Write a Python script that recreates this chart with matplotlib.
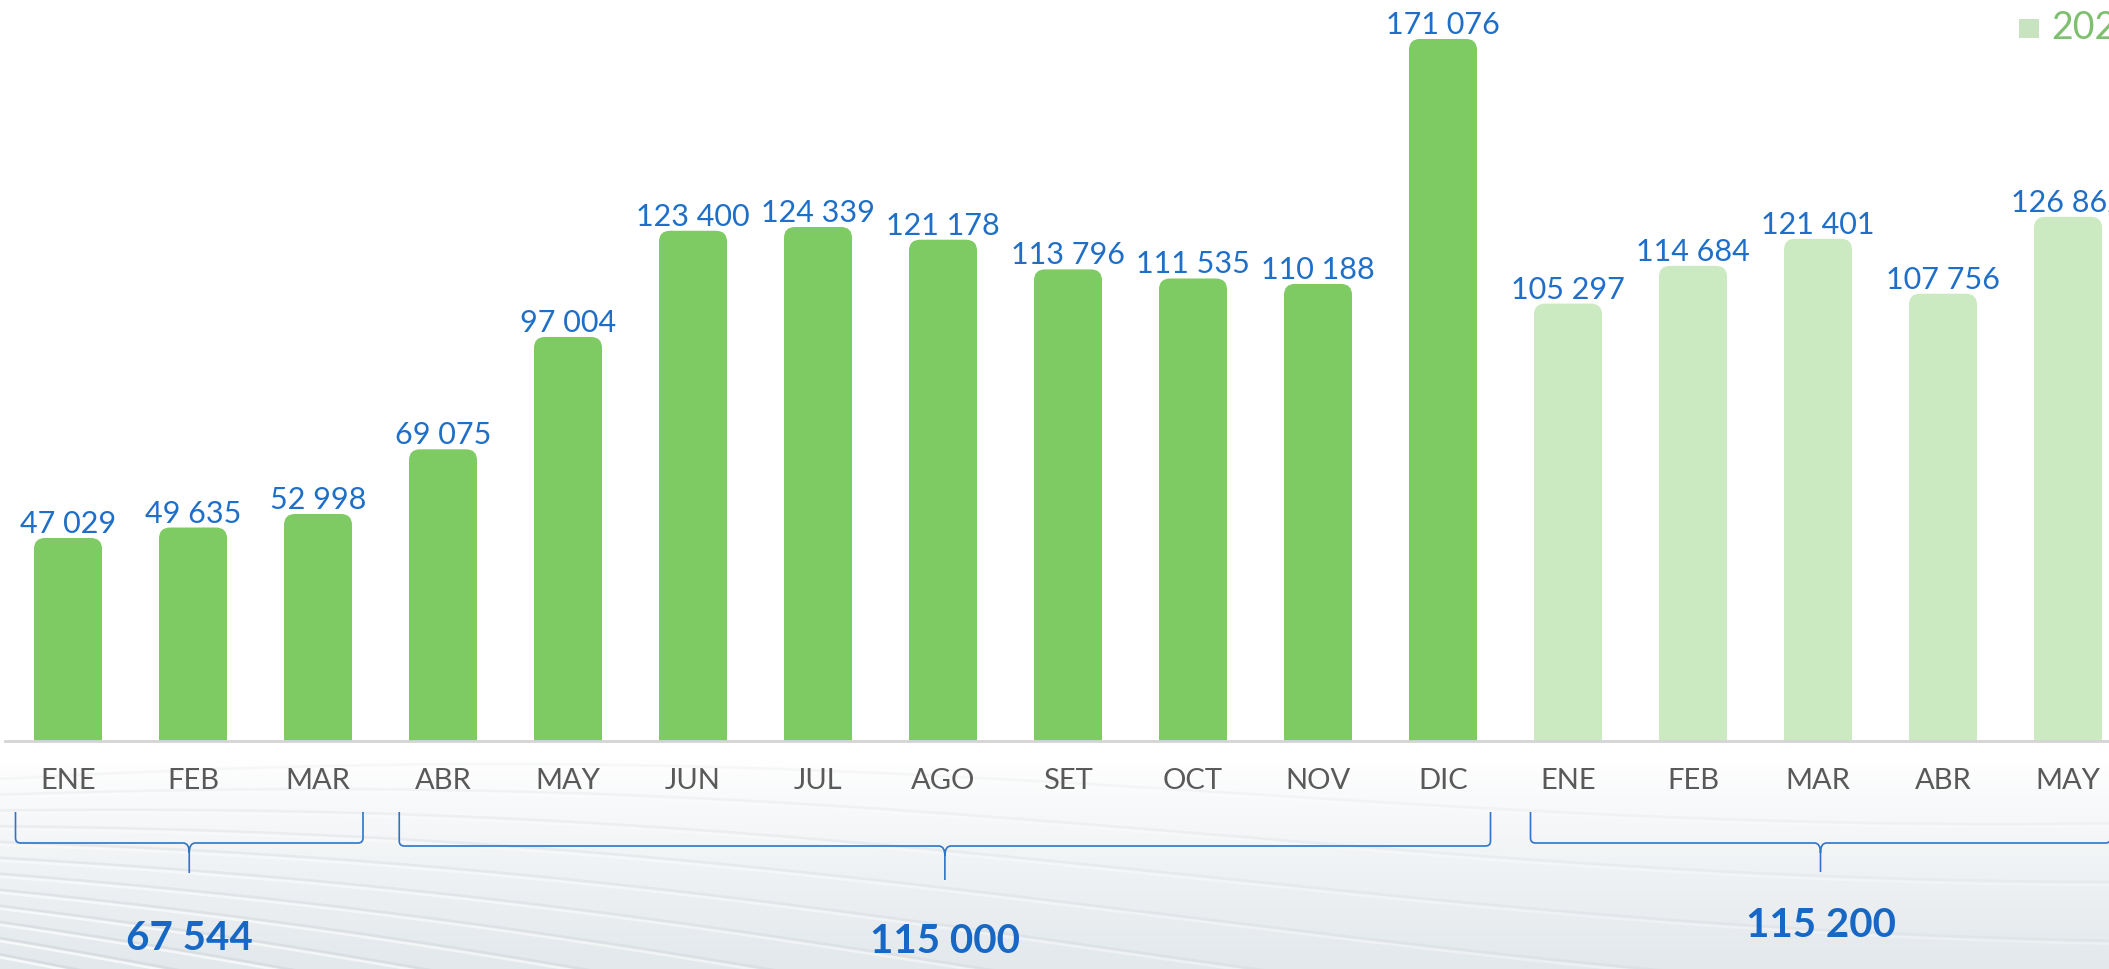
import numpy as np
import matplotlib
matplotlib.use("Agg")
import matplotlib.pyplot as plt
from matplotlib.patches import FancyBboxPatch, Rectangle
from matplotlib.path import Path
from matplotlib.patches import PathPatch
from matplotlib.transforms import blended_transform_factory

# ---------------- data ----------------
months = ["ENE", "FEB", "MAR", "ABR", "MAY", "JUN", "JUL", "AGO", "SET", "OCT", "NOV", "DIC",
          "ENE", "FEB", "MAR", "ABR", "MAY"]
values = [47029, 49635, 52998, 69075, 97004, 123400, 124339, 121178, 113796, 111535, 110188, 171076,
          105297, 114684, 121401, 107756, 126862]
years = [2023] * 12 + [2024] * 5
value_labels = ["47 029", "49 635", "52 998", "69 075", "97 004", "123 400", "124 339", "121 178",
                "113 796", "111 535", "110 188", "171 076", "105 297", "114 684", "121 401",
                "107 756", "126 862"]
group_start = [0, 3, 12]
group_end = [2, 11, 16]
group_labels = ["67 544", "115 000", "115 200"]
legend_label = "2024"

# ---------------- style ----------------
W, H = 2109, 970
DPI = 100
col_2023 = "#7dcb62"
col_2024 = "#cceac1"
blue = "#1f6fc9"
blue_bold = "#1767c4"
grey_txt = "#595959"
FONT = ["Lato", "DejaVu Sans"]

fig = plt.figure(figsize=(W / DPI, H / DPI), dpi=DPI)

# background with gradient and faint waves
bg = fig.add_axes([0, 0, 1, 1], zorder=0)
bg.set_xlim(0, W)
bg.set_ylim(H, 0)
bg.axis("off")
rows = np.arange(H)
t = np.clip((rows - 760) / (H - 760), 0, 1) ** 0.9
top_c = np.array([1.0, 1.0, 1.0])
bot_c = np.array([0.89, 0.91, 0.925])
grad = top_c[None, :] * (1 - t[:, None]) + bot_c[None, :] * t[:, None]
img = np.repeat(grad[:, None, :], 8, axis=1)
bg.imshow(img, extent=[0, W, H, 0], aspect="auto", zorder=0)
xs = np.linspace(0, W, 600)
for k in range(12):
    base = 795 + k * 17
    yk = base - 30 * np.sin(np.pi * (xs + 250 + 25 * k) / 1500.0) + k * 0.02 * xs
    a = min(1.0, 0.3 + k * 0.06)
    bg.plot(xs, yk, color=(0.78, 0.80, 0.82), lw=1.8, alpha=0.45 * a, zorder=1)
    bg.plot(xs, yk + 3, color="white", lw=1.8, alpha=0.75 * a, zorder=1)

# main axes
ax_bottom_px = 742
ax = fig.add_axes([0, (H - ax_bottom_px) / H, 1, ax_bottom_px / H], zorder=2)
ax.patch.set_alpha(0)
px_per_x = 125.0
x0 = -68 / px_per_x
ax.set_xlim(x0, x0 + W / px_per_x)
px_per_k = 4.023
y0 = -13.8 / px_per_k * 1000
y1 = y0 + ax_bottom_px / px_per_k * 1000
ax.set_ylim(y0, y1)
ax.axis("off")

bar_w = 68 / px_per_x
r_x = 11 / px_per_x
y_per_px = 1000 / px_per_k
aspect = y_per_px / (1 / px_per_x)
for i, (v, yr) in enumerate(zip(values, years)):
    c = col_2023 if yr == 2023 else col_2024
    bottom = y0 - 30 * y_per_px
    p = FancyBboxPatch((i - bar_w / 2, bottom), bar_w, v - bottom,
                       boxstyle=f"round,pad=0,rounding_size={r_x}",
                       mutation_aspect=aspect, facecolor=c, edgecolor="none", zorder=3)
    ax.add_patch(p)
    ax.annotate(value_labels[i], (i, v), xytext=(0, 6 * 72 / DPI), textcoords="offset points",
                ha="center", va="baseline", fontsize=22, color=blue,
                family=FONT, zorder=5)

# baseline
ax.axhline(y0, xmin=5 / W, xmax=1, color="#d4d4d4", lw=2.0, clip_on=False, zorder=4)

# month labels
tr = blended_transform_factory(ax.transData, fig.transFigure)
for i, m in enumerate(months):
    ax.text(i, 1 - 789 / H, m, transform=tr, ha="center", va="baseline",
            fontsize=21, color=grey_txt, family=FONT, clip_on=False, zorder=5)

# brackets
def fy(px):
    return 1 - px / H

bracket_pad_l = [0.42, 0.35, 0.30]
bracket_pad_r = [0.36, 0.38, 0.34]
bracket_h = [844, 847, 844]
bracket_bot = [874, 881, 873]
for g in range(3):
    xa = group_start[g] - bracket_pad_l[g]
    xb = group_end[g] + bracket_pad_r[g]
    xm = (xa + xb) / 2
    ytop = fy(813)
    yh = fy(bracket_h[g])
    yb = fy(bracket_bot[g])
    rx = 5 / px_per_x
    ry = 5 / H
    rx2 = 6 / px_per_x
    ry2 = 10 / H
    verts = [(xa, ytop), (xa, yh + ry), (xa, yh), (xa + rx, yh), (xm - rx2, yh), (xm, yh), (xm, yh - ry2),
             (xm, yb),
             (xm, yh - ry2), (xm, yh), (xm + rx2, yh), (xb - rx, yh), (xb, yh), (xb, yh + ry), (xb, ytop)]
    codes = [Path.MOVETO, Path.LINETO, Path.CURVE3, Path.CURVE3, Path.LINETO, Path.CURVE3, Path.CURVE3,
             Path.LINETO,
             Path.MOVETO, Path.CURVE3, Path.CURVE3, Path.LINETO, Path.CURVE3, Path.CURVE3, Path.LINETO]
    pp = PathPatch(Path(verts, codes), transform=tr, fill=False, edgecolor="#2f74c6",
                   lw=1.2, clip_on=False, zorder=5)
    ax.add_patch(pp)

label_base = [950, 953, 937]
for g in range(3):
    xm = ((group_start[g] - bracket_pad_l[g]) + (group_end[g] + bracket_pad_r[g])) / 2
    ax.text(xm, fy(label_base[g]), group_labels[g], transform=tr, ha="center", va="baseline",
            fontsize=29, fontweight="bold", color=blue_bold, family=FONT, clip_on=False, zorder=5)

# legend fragment (top right)
fig.patches.append(Rectangle((2019 / W, fy(39)), 20 / W, 19 / H, transform=fig.transFigure,
                             facecolor="#c8e3c0", edgecolor="none", zorder=6))
fig.text(2051 / W, fy(39), legend_label, ha="left", va="baseline", fontsize=27,
         color="#7fbf70", family=FONT, zorder=6)

fig.savefig("out.png", dpi=DPI)
